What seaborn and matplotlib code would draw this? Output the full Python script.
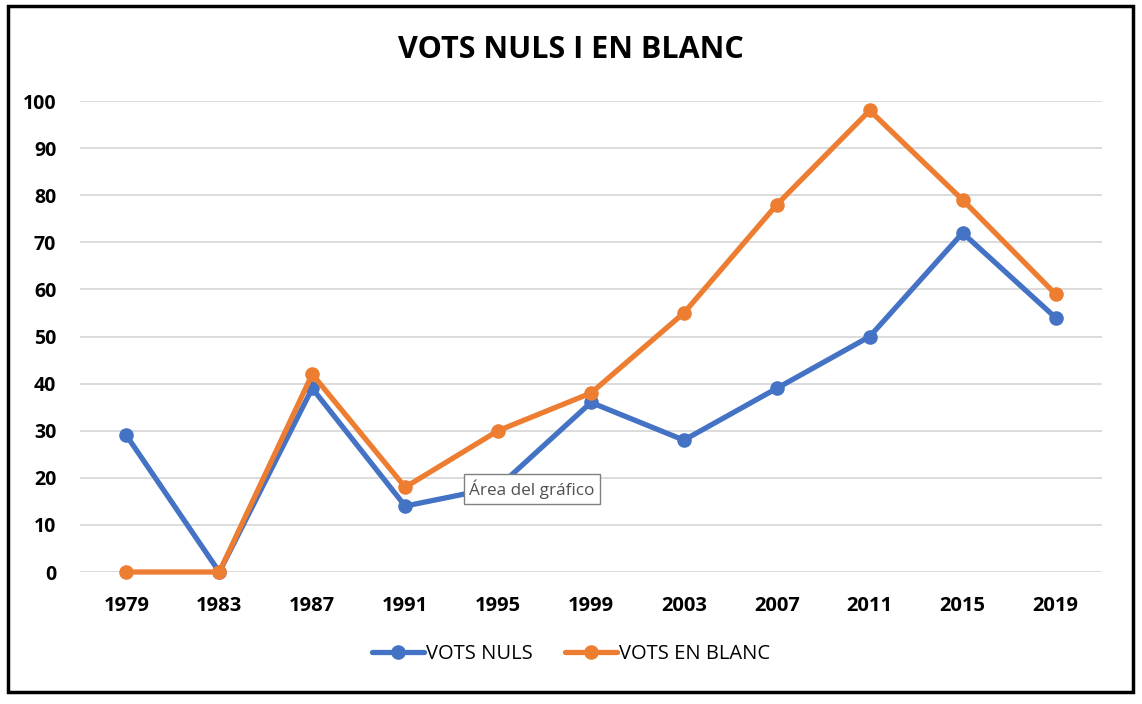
import matplotlib
matplotlib.use("Agg")
import matplotlib.pyplot as plt
import seaborn as sns
import pandas as pd
from matplotlib.patches import Rectangle

years = ["1979", "1983", "1987", "1991", "1995", "1999", "2003", "2007", "2011", "2015", "2019"]
vots_nuls = [29, 0, 39, 14, 18, 36, 28, 39, 50, 72, 54]
vots_en_blanc = [0, 0, 42, 18, 30, 38, 55, 78, 98, 79, 59]
y_ticks = [0, 10, 20, 30, 40, 50, 60, 70, 80, 90, 100]

sns.set_theme(style="white")
plt.rcParams['font.family'] = ['Open Sans', 'DejaVu Sans']
plt.rcParams['text.color'] = 'black'
plt.rcParams['xtick.color'] = 'black'
plt.rcParams['ytick.color'] = 'black'

df = pd.DataFrame({
    "year": years * 2,
    "value": vots_nuls + vots_en_blanc,
    "serie": ["VOTS NULS"] * len(years) + ["VOTS EN BLANC"] * len(years),
})

fig = plt.figure(figsize=(11.42, 7.04), dpi=100)
ax = fig.add_axes([0.070, 0.1875, 0.895, 0.669])

palette = {"VOTS NULS": "#4472C4", "VOTS EN BLANC": "#ED7D31"}
sns.lineplot(data=df, x="year", y="value", hue="serie", palette=palette,
             marker="o", markersize=10.5, markeredgewidth=0, linewidth=3.8,
             ax=ax, sort=False, clip_on=False, legend=True)

ax.set_xlim(-0.5, len(years) - 0.5)
ax.set_ylim(0, 100)
ax.set_yticks(y_ticks)
ax.set_yticklabels([str(t) for t in y_ticks], fontsize=14, fontweight="bold", color="black")
ax.set_xticks(range(len(years)))
ax.set_xticklabels(years, fontsize=14.5, fontweight="bold", color="black")
ax.tick_params(axis="x", length=0, pad=17)
ax.tick_params(axis="y", length=0, pad=17)
ax.set_xlabel("")
ax.set_ylabel("")
ax.yaxis.grid(True, color="#D9D9D9", linewidth=1.3)
ax.set_axisbelow(True)
for s in ax.spines.values():
    s.set_visible(False)
for ln in ax.lines:
    ln.set_solid_capstyle("round")
    ln.set_zorder(3)

handles, labels = ax.get_legend_handles_labels()
ax.legend(handles, labels, loc="center", frameon=False, ncol=2,
          fontsize=14.5, handlelength=2.6, columnspacing=1.6, handletextpad=0.1,
          labelcolor="black")
leg = ax.get_legend()
leg.set_bbox_to_anchor((0.5, 1 - 654 / 704), transform=fig.transFigure)

fig.text(0.5, 1 - 50 / 704, "VOTS NULS I EN BLANC", ha="center", va="center",
         fontsize=22, fontweight="bold", color="#000000")

# tooltip
fig.text(532 / 1142, 1 - 489 / 704, "Área del gráfico", ha="center", va="center",
         fontsize=12.3, color="#505050",
         bbox=dict(boxstyle="square,pad=0.3", facecolor="white", edgecolor="#808080", linewidth=1))

fig.patches.append(Rectangle((8 / 1142, 1 - 692 / 704), 1125 / 1142, 686 / 704,
                             transform=fig.transFigure, fill=False,
                             edgecolor="black", linewidth=2.5))

fig.savefig("out.png", dpi=100)
